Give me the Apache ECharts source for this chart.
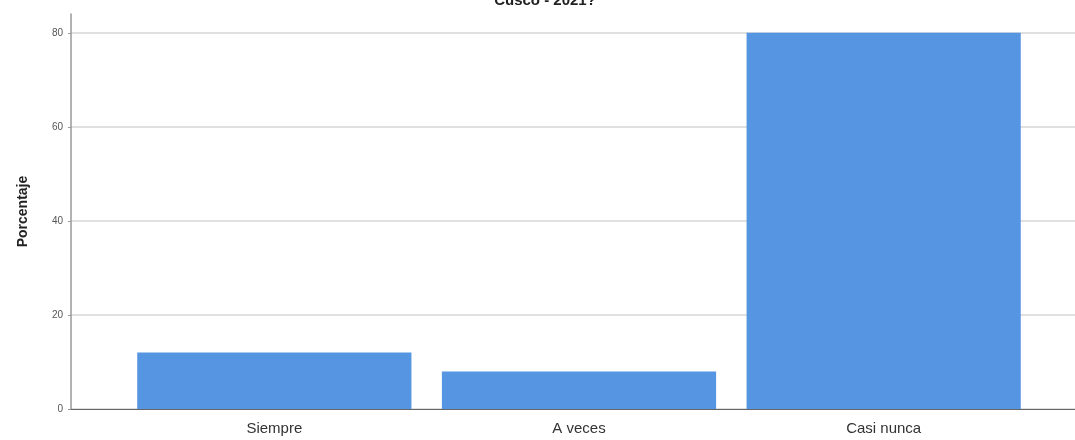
<!DOCTYPE html>
<html><head><meta charset="utf-8">
<script src="https://cdn.jsdelivr.net/npm/echarts@6/dist/echarts.min.js"></script>
<style>html,body{margin:0;padding:0;background:#fff}#c{width:1075px;height:440px}</style>
</head><body><div id="c"></div>
<script>
const titleText = 'Cusco - 2021?';
const categories = ['Siempre', 'A veces', 'Casi nunca'];
const values = [12, 8, 80];
const yTicks = [0, 20, 40, 60, 80];
const yName = 'Porcentaje';

const chart = echarts.init(document.getElementById('c'));
chart.setOption({
  animation: false,
  backgroundColor: '#fff',
  title: { text: titleText, left: 540, textAlign: 'center', top: -12,
    textStyle: { fontFamily: 'Liberation Sans', fontSize: 15, fontWeight: 'bold', color: '#222' } },
  grid: [
    { left: 71, right: 0, top: 14, bottom: 31 },
    { left: 122, right: 39, top: 14, bottom: 31 }
  ],
  xAxis: [
    { gridIndex: 0, type: 'value', min: 0, max: 1, show: true,
      axisLine: { show: true, lineStyle: { color: '#666', width: 1 } },
      axisTick: { show: false }, axisLabel: { show: false }, splitLine: { show: false } },
    { gridIndex: 1, type: 'category', data: categories,
      axisLine: { show: false }, axisTick: { show: false },
      axisLabel: { margin: 12, fontFamily: 'Liberation Sans', fontSize: 15, color: '#333' } }
  ],
  yAxis: [
    { gridIndex: 0, type: 'value', min: 0, max: 84, interval: 20,
      name: yName, nameLocation: 'middle', nameGap: 41,
      nameTextStyle: { fontFamily: 'Liberation Sans', fontSize: 14, fontWeight: 'bold', color: '#222' },
      axisLine: { show: true, lineStyle: { color: '#999', width: 1.5 } },
      axisTick: { show: true, length: 3, lineStyle: { color: '#999' } },
      axisLabel: { showMaxLabel: false, margin: 8, fontFamily: 'Liberation Sans', fontSize: 10, color: '#555',
        formatter: v => yTicks.includes(v) ? String(v) : '' },
      splitLine: { show: true, lineStyle: { color: ['#d6d6d6','#d6d6d6','#d6d6d6','#d6d6d6','#d6d6d6','rgba(0,0,0,0)'], width: 1.5 } } },
    { gridIndex: 1, type: 'value', min: 0, max: 84, show: false, splitLine: { show: false } }
  ],
  series: [
    { type: 'bar', xAxisIndex: 1, yAxisIndex: 1, data: values, barCategoryGap: '10%',
      itemStyle: { color: '#5595e2' } }
  ]
});
</script></body></html>
